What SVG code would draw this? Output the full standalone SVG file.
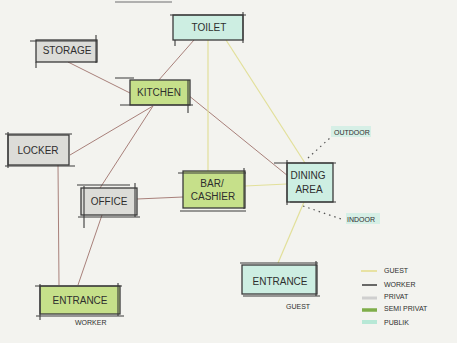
<svg xmlns="http://www.w3.org/2000/svg" width="457" height="343" viewBox="0 0 457 343">
<defs>
<style>
.box{stroke:#3a3a3a;stroke-width:1.3}
.ext{stroke:#3a3a3a;stroke-width:1.1;fill:none}
.grey{fill:#dcdcd8}
.green{fill:#c6e08a}
.teal{fill:#cdeee2}
.lbl{font-family:"Liberation Sans",Arial,sans-serif;font-size:10px;fill:#2e2e2e;text-anchor:middle}
.sm{font-family:"Liberation Sans",Arial,sans-serif;font-size:7px;fill:#2e2e2e}
.w{stroke:#a8807a;stroke-width:1;fill:none}
.g{stroke:#e2e09a;stroke-width:1.2;fill:none}
.dot{stroke:#555;stroke-width:1.2;stroke-dasharray:1.5 4;fill:none}
</style>
</defs>
<rect width="457" height="343" fill="#f3f3ef"/>
<line x1="115" y1="2" x2="172" y2="2" stroke="#9a9a9a" stroke-width="1.5"/>
<g id="connectors">
<line class="w" x1="68" y1="62" x2="132" y2="94"/>
<line class="w" x1="194" y1="40" x2="158" y2="81"/>
<line class="w" x1="188" y1="95" x2="288" y2="176"/>
<line class="w" x1="153" y1="106" x2="70" y2="155"/>
<line class="w" x1="153" y1="106" x2="100" y2="188"/>
<line class="w" x1="137" y1="199" x2="183" y2="197"/>
<line class="w" x1="102" y1="215" x2="78" y2="285"/>
<line class="w" x1="58" y1="165" x2="59" y2="285"/>
<line class="g" x1="208" y1="40" x2="208" y2="172"/>
<line class="g" x1="226" y1="40" x2="305" y2="163"/>
<line class="g" x1="245" y1="186" x2="287" y2="184"/>
<line class="g" x1="304" y1="202" x2="278" y2="263"/>
<path class="dot" d="M308 158 L331 137"/>
<path class="dot" d="M303 206 L344 220"/>
</g>
<g id="toilet">
<rect class="box teal" x="173" y="15" width="70" height="25"/>
<path class="ext" d="M170 15 H246 M243 12 V43 M175 40 V46"/>
<text class="lbl" x="209" y="31">TOILET</text>
</g>
<g id="storage">
<rect class="box grey" x="36" y="40" width="61" height="22"/>
<path class="ext" d="M30 41 H97 M96 35 V63 M36 62 V68"/>
<text class="lbl" x="67" y="54" font-size="9">STORAGE</text>
</g>
<g id="kitchen">
<rect class="box green" x="130" y="80" width="60" height="25"/>
<path class="ext" d="M115 78 H134 M120 105 H193 M188 80 V113"/>
<text class="lbl" x="159" y="96">KITCHEN</text>
</g>
<g id="locker">
<rect class="box grey" x="8" y="135" width="61" height="30"/>
<path class="ext" d="M5 134 H72 M5 166 H75 M8 132 V168"/>
<text class="lbl" x="38" y="154" font-size="11">LOCKER</text>
</g>
<g id="office">
<rect class="box grey" x="81" y="188" width="56" height="27"/>
<path class="ext" d="M77 185 H130 M135 183 V217 M78 217 H140 M84 186 V228"/>
<text class="lbl" x="109" y="205" font-size="9">OFFICE</text>
</g>
<g id="bar">
<rect class="box green" x="183" y="171" width="62" height="37"/>
<path class="ext" d="M178 173 H246 M244 168 V209 M180 211 H246"/>
<text class="lbl" x="212" y="187">BAR/</text>
<text class="lbl" x="213" y="200">CASHIER</text>
</g>
<g id="dining">
<rect class="box teal" x="287" y="163" width="46" height="39"/>
<path class="ext" d="M274 163 H336 M287 160 V205 M290 202 H336"/>
<text class="lbl" x="308" y="179" font-size="8.5">DINING</text>
<text class="lbl" x="309" y="193" font-size="8">AREA</text>
</g>
<g id="outdoor">
<rect x="331" y="126" width="40" height="11" fill="#d6efe6"/>
<text class="sm" x="334" y="135">OUTDOOR</text>
</g>
<g id="indoor">
<rect x="346" y="213" width="34" height="11" fill="#d6efe6"/>
<text class="sm" x="347" y="222">INDOOR</text>
</g>
<g id="entrance-guest">
<rect class="box teal" x="242" y="265" width="75" height="29"/>
<path class="ext" d="M240 263 H318 M316 261 V296 M243 296 H320"/>
<text class="lbl" x="280" y="285" font-size="11">ENTRANCE</text>
<text class="sm" x="286" y="309">GUEST</text>
</g>
<g id="entrance-worker">
<rect class="box green" x="40" y="286" width="80" height="28"/>
<path class="ext" d="M35 286 H122 M118 283 V316 M36 316 H124 M40 284 V320"/>
<text class="lbl" x="80" y="304" font-size="11">ENTRANCE</text>
<text class="sm" x="75" y="325">WORKER</text>
</g>
<g id="legend">
<line x1="361" y1="271" x2="377" y2="271" stroke="#e4dc8a" stroke-width="1.5"/>
<line x1="362" y1="285" x2="377" y2="285" stroke="#3a3a3a" stroke-width="1.5"/>
<line x1="362" y1="298" x2="377" y2="298" stroke="#cfcfcf" stroke-width="3"/>
<line x1="362" y1="310" x2="377" y2="310" stroke="#7fae4a" stroke-width="3.5"/>
<line x1="362" y1="322" x2="377" y2="322" stroke="#b7e8d6" stroke-width="4"/>
<text class="sm" x="384" y="273">GUEST</text>
<text class="sm" x="384" y="287">WORKER</text>
<text class="sm" x="384" y="299">PRIVAT</text>
<text class="sm" x="384" y="311">SEMI PRIVAT</text>
<text class="sm" x="384" y="325">PUBLIK</text>
</g>
</svg>
